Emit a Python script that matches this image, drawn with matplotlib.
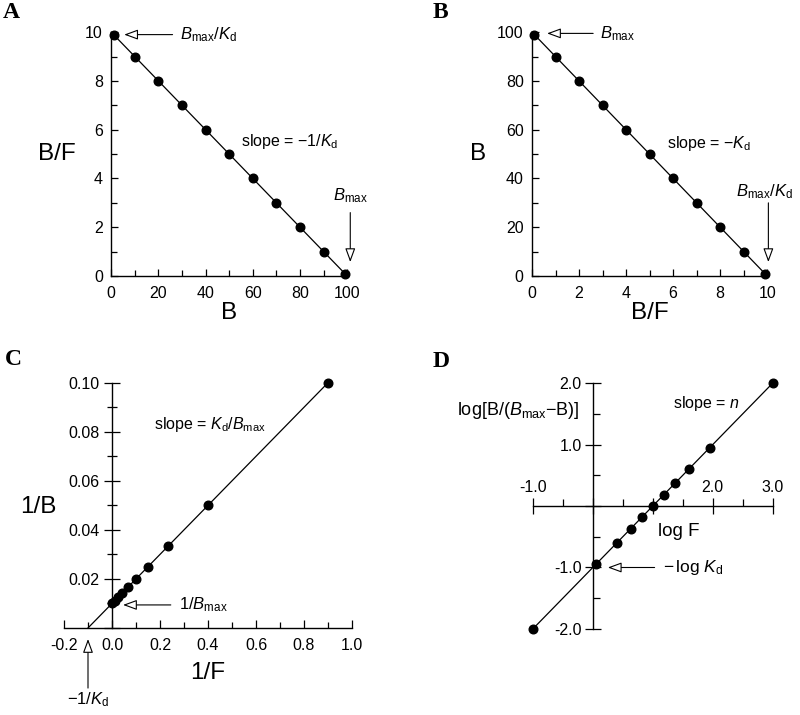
"""
Four linear transforms of a single-site binding curve (Bmax = 100, Kd = 10):
A Scatchard (B/F vs B), B Eadie-Hofstee (B vs B/F),
C Lineweaver-Burk (1/B vs 1/F), D Hill plot.
"""
import matplotlib
matplotlib.use("Agg")
import matplotlib.pyplot as plt
from matplotlib.ticker import MultipleLocator

plt.rcParams["font.family"] = ["Liberation Sans", "DejaVu Sans"]
plt.rcParams["mathtext.fontset"] = "custom"
plt.rcParams["mathtext.rm"] = "Liberation Sans"
plt.rcParams["mathtext.it"] = "Liberation Sans:italic"
plt.rcParams["axes.unicode_minus"] = False

# panel A: Scatchard
a_bound = [1, 10, 20, 30, 40, 50, 60, 70, 80, 90, 99]
a_ratio = [9.9, 9, 8, 7, 6, 5, 4, 3, 2, 1, 0.1]
a_line_x = [0, 100]
a_line_y = [10, 0]

# panel B: Eadie-Hofstee
b_ratio = [0.1, 1, 2, 3, 4, 5, 6, 7, 8, 9, 9.9]
b_bound = [99, 90, 80, 70, 60, 50, 40, 30, 20, 10, 1]
b_line_x = [0, 10]
b_line_y = [100, 0]

# panel C: double reciprocal
c_inv_free = [0.9, 0.4, 0.233, 0.15, 0.1, 0.0667, 0.0429, 0.025, 0.0111, 0.001]
c_inv_bound = [0.1, 0.05, 0.0333, 0.025, 0.02, 0.0167, 0.0143, 0.0125, 0.0111, 0.0101]
c_line_x = [-0.1, 0.9]
c_line_y = [0.0, 0.1]

# panel D: Hill plot
d_log_free = [-1.0, 0.05, 0.4, 0.63, 0.82, 1.0, 1.18, 1.37, 1.6, 1.95, 3.0]
d_logit = [-2.0, -0.95, -0.6, -0.37, -0.18, 0.0, 0.18, 0.37, 0.6, 0.95, 2.0]
d_line_x = [-1, 3]
d_line_y = [-2, 2]

TICK = 11.5
LABEL = 17.5
NOTE = 11.5
ARROW = dict(arrowstyle="-|>,head_length=0.6,head_width=0.22", fc="white",
             ec="black", lw=0.8, mutation_scale=14, shrinkA=0, shrinkB=0)


def draw(ax, x, y, lx, ly):
    ax.plot(lx, ly, color="black", lw=0.9, clip_on=False, zorder=2)
    ax.plot(x, y, "o", color="black", ms=6.2, clip_on=False, zorder=3)


def arrow(ax, tip, tail):
    ax.annotate("", xy=tip, xytext=tail, arrowprops=ARROW, annotation_clip=False)


def simple_axes(ax):
    for s in ("top", "right"):
        ax.spines[s].set_visible(False)
    for s in ("left", "bottom"):
        ax.spines[s].set_linewidth(1.0)
    ax.tick_params(which="both", direction="in", labelsize=TICK, width=0.9)
    ax.tick_params(which="major", length=5)
    ax.tick_params(axis="x", which="major", pad=7)
    ax.tick_params(axis="y", which="major", pad=6)
    ax.tick_params(which="minor", length=4)


fig = plt.figure(figsize=(8, 7.15), dpi=100)

# ---- A
ax = fig.add_axes([0.139, 0.614, 0.295, 0.341])
draw(ax, a_bound, a_ratio, a_line_x, a_line_y)
ax.set_xlim(0, 100)
ax.set_ylim(0, 10)
simple_axes(ax)
ax.xaxis.set_major_locator(MultipleLocator(20))
ax.xaxis.set_minor_locator(MultipleLocator(10))
ax.yaxis.set_major_locator(MultipleLocator(2))
ax.yaxis.set_minor_locator(MultipleLocator(1))
ax.set_xlabel("B", fontsize=LABEL, labelpad=1)
ax.set_ylabel("B/F", fontsize=LABEL, rotation=0, labelpad=20, va="center")
arrow(ax, (5.5, 9.9), (26, 9.9))
ax.text(29, 9.9, r"$B_{\rm max}/K_{\rm d}$", fontsize=12, ha="left", va="center")
ax.text(55, 5.5, r"slope = $-$1/$K_{\rm d}$", fontsize=NOTE, ha="left", va="center")
ax.text(101.5, 3.3, r"$B_{\rm max}$", fontsize=12, ha="center", va="center")
arrow(ax, (101.3, 0.57), (101.3, 2.6))

# ---- B
ax = fig.add_axes([0.665, 0.614, 0.294, 0.341])
draw(ax, b_ratio, b_bound, b_line_x, b_line_y)
ax.set_xlim(0, 10)
ax.set_ylim(0, 100)
simple_axes(ax)
ax.xaxis.set_major_locator(MultipleLocator(2))
ax.xaxis.set_minor_locator(MultipleLocator(1))
ax.yaxis.set_major_locator(MultipleLocator(20))
ax.yaxis.set_minor_locator(MultipleLocator(10))
ax.set_xlabel("B/F", fontsize=LABEL, labelpad=1)
ax.set_ylabel("B", fontsize=LABEL, rotation=0, labelpad=14, va="center")
arrow(ax, (0.64, 99.5), (2.6, 99.5))
ax.text(2.9, 99.5, r"$B_{\rm max}$", fontsize=12, ha="left", va="center")
ax.text(5.75, 54.5, r"slope = $-K_{\rm d}$", fontsize=NOTE, ha="left", va="center")
ax.text(9.87, 34.4, r"$B_{\rm max}/K_{\rm d}$", fontsize=12, ha="center", va="center")
arrow(ax, (10.05, 5.7), (10.05, 30))

# ---- C
ax = fig.add_axes([0.080, 0.1217, 0.360, 0.343])
draw(ax, c_inv_free, c_inv_bound, c_line_x, c_line_y)
ax.set_xlim(-0.2, 1.0)
ax.set_ylim(0, 0.1)
for s in ("top", "right"):
    ax.spines[s].set_visible(False)
ax.spines["left"].set_position(("data", 0))
ax.spines["left"].set_linewidth(1.0)
ax.spines["bottom"].set_linewidth(1.0)
ax.xaxis.set_major_locator(MultipleLocator(0.2))
ax.xaxis.set_minor_locator(MultipleLocator(0.1))
ax.yaxis.set_major_locator(MultipleLocator(0.02))
ax.yaxis.set_minor_locator(MultipleLocator(0.01))
ax.xaxis.set_major_formatter(lambda v, p: f"{v:.1f}")
ax.yaxis.set_major_formatter(lambda v, p: "" if abs(v) < 1e-9 else f"{v:.2f}")
ax.tick_params(axis="x", which="both", direction="in", labelsize=TICK, width=0.9)
ax.tick_params(axis="x", which="major", length=6, pad=7)
ax.tick_params(axis="x", which="minor", length=4)
ax.tick_params(axis="y", which="both", direction="inout", labelsize=TICK, width=0.9)
ax.tick_params(axis="y", which="major", length=12, pad=3)
ax.tick_params(axis="y", which="minor", length=7)
ax.text(0.5, -0.184, "1/F", fontsize=LABEL, ha="center", va="center",
        transform=ax.transAxes)
ax.text(-0.09, 0.494, "1/B", fontsize=LABEL, ha="center", va="center",
        transform=ax.transAxes)
ax.text(0.175, 0.083, r"slope = $K_{\rm d}/B_{\rm max}$", fontsize=NOTE,
        ha="left", va="center")
arrow(ax, (0.046, 0.0094), (0.245, 0.0094))
ax.text(0.28, 0.0094, r"1/$B_{\rm max}$", fontsize=12, ha="left", va="center")
arrow(ax, (-0.1, -0.0045), (-0.1, -0.0245))
ax.text(-0.1, -0.0255, r"$-$1/$K_{\rm d}$", fontsize=12, ha="center", va="top")

# ---- D
ax = fig.add_axes([0.666, 0.1203, 0.300, 0.344])
draw(ax, d_log_free, d_logit, d_line_x, d_line_y)
ax.set_xlim(-1, 3)
ax.set_ylim(-2, 2)
for s in ("bottom", "right"):
    ax.spines[s].set_visible(False)
ax.spines["top"].set_position(("data", 0))
ax.spines["left"].set_position(("data", 0))
ax.spines["top"].set_linewidth(1.0)
ax.spines["left"].set_linewidth(1.0)
ax.xaxis.set_ticks_position("top")
ax.set_xticks([-1, 0, 1, 2, 3], ["-1.0", "", "", "2.0", "3.0"])
ax.xaxis.set_minor_locator(MultipleLocator(0.5))
ax.set_yticks([-2, -1, 0, 1, 2], ["-2.0", "-1.0", "", "1.0", "2.0"])
ax.yaxis.set_minor_locator(MultipleLocator(0.5))
ax.tick_params(which="both", labelsize=TICK, width=0.9)
ax.tick_params(which="major", direction="inout", length=12, pad=2)
ax.tick_params(axis="x", which="minor", direction="out", length=5)
ax.tick_params(axis="y", which="minor", direction="in", length=5)
ax.text(1.43, -0.41, "log F", fontsize=13.5, ha="center", va="center")
ax.text(-0.22, 1.55, r"log[B/($B_{\rm max}$$-$B)]", fontsize=13, ha="right",
        va="center")
ax.text(1.33, 1.66, r"slope = $n$", fontsize=NOTE, ha="left", va="center")
arrow(ax, (0.25, -1.0), (1.03, -1.0))
ax.text(1.17, -1.0, r"$-\,$log $K_{\rm d}$", fontsize=12.5, ha="left", va="center")

# panel letters
for letter, x, y in [("A", 0.004, 0.982), ("B", 0.541, 0.982),
                     ("C", 0.006, 0.497), ("D", 0.541, 0.494)]:
    fig.text(x, y, letter, fontsize=17, fontweight="bold", va="center",
             ha="left", family="Liberation Serif")

fig.savefig("out.png", dpi=100)
